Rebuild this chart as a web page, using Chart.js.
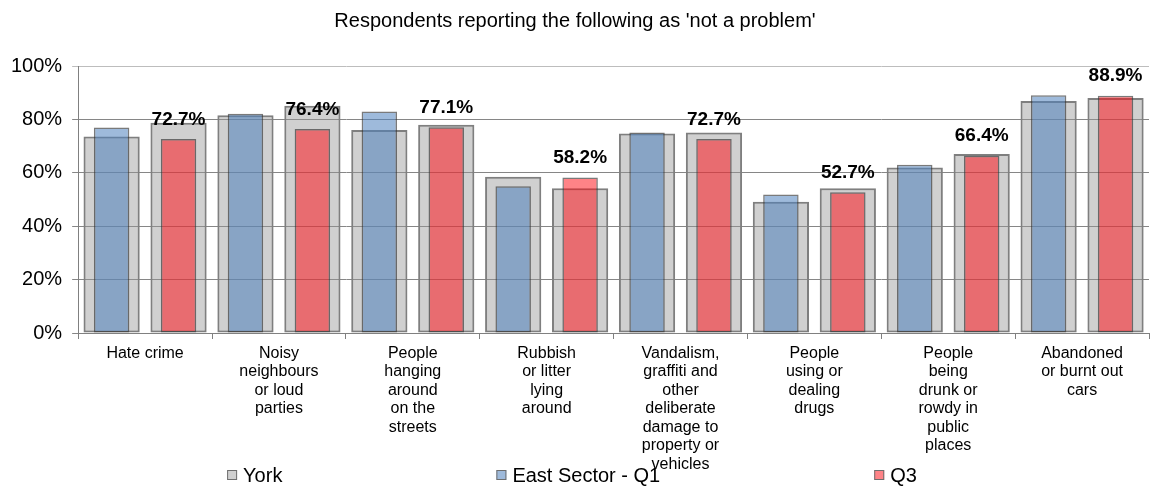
<!DOCTYPE html>
<html>
<head>
<meta charset="utf-8">
<script src="https://cdn.jsdelivr.net/npm/chart.js@4/dist/chart.umd.min.js"></script>
<style>
    html, body { margin: 0; padding: 0; background: #fff; }
    #wrap { width: 1150px; height: 488px; }
</style>
</head>
<body>
<div id="wrap"><canvas id="problemChart"></canvas></div>
<script>
const FONT = '"Liberation Sans", Arial, sans-serif';

const categories = [
    ['Hate crime'],
    ['Noisy', 'neighbours', 'or loud', 'parties'],
    ['People', 'hanging', 'around', 'on the', 'streets'],
    ['Rubbish', 'or litter', 'lying', 'around'],
    ['Vandalism,', 'graffiti and', 'other', 'deliberate', 'damage to', 'property or', 'vehicles'],
    ['People', 'using or', 'dealing', 'drugs'],
    ['People', 'being', 'drunk or', 'rowdy in', 'public', 'places'],
    ['Abandoned', 'or burnt out', 'cars']
];

// York comparison bars (behind East Sector Q1 and Q3)
const yorkQ1 = [73.6, 81.6, 76.0, 58.5, 74.7, 49.2, 62.0, 86.9];
const yorkQ3 = [78.7, 85.1, 78.0, 54.2, 75.1, 54.2, 67.0, 88.0];
const eastQ1 = [77.0, 82.1, 83.0, 55.0, 75.1, 51.9, 63.0, 89.0];
const eastQ3 = [72.7, 76.4, 77.1, 58.2, 72.7, 52.7, 66.4, 88.9];

const yTicks = [0, 20, 40, 60, 80, 100];
const legendNames = ['York', 'East Sector - Q1', 'Q3'];

const GREY = 'rgba(150, 150, 150, 0.45)';
const BLUE = 'rgba(79, 129, 189, 0.55)';
const RED = 'rgba(255, 8, 16, 0.5)';

// value labels above the Q3 bars
const valueLabels = {
    id: 'valueLabels',
    afterDatasetsDraw(chart) {
        const meta = chart.getDatasetMeta(3);
        const ctx = chart.ctx;
        ctx.save();
        ctx.font = 'bold 19px ' + FONT;
        ctx.fillStyle = '#000';
        ctx.textAlign = 'center';
        ctx.textBaseline = 'middle';
        meta.data.forEach((bar, i) => {
            ctx.fillText(eastQ3[i].toFixed(1) + '%', bar.x, bar.y - 19.5);
        });
        ctx.restore();
    }
};

// let the category labels run down over the legend area like the original
const tallLabels = {
    id: 'tallLabels',
    afterLayout(chart) {
        chart.scales.x.bottom = chart.height;
    }
};

// Excel style legend spread across the bottom
const bottomLegend = {
    id: 'bottomLegend',
    afterDraw(chart) {
        const ctx = chart.ctx;
        const fills = [GREY, BLUE, RED];
        const box = 10, gap = 214, y = 475;
        ctx.save();
        ctx.font = '20px ' + FONT;
        ctx.textBaseline = 'middle';
        ctx.textAlign = 'left';
        const widths = legendNames.map(t => box + 6 + ctx.measureText(t).width);
        const total = widths.reduce((a, b) => a + b, 0) + gap * (widths.length - 1);
        let x = (chart.width - total) / 2 - 3;
        legendNames.forEach((name, i) => {
            ctx.fillStyle = '#fff';
            ctx.fillRect(x, y - box / 2, box, box);
            ctx.fillStyle = fills[i];
            ctx.fillRect(x, y - box / 2, box, box);
            ctx.strokeStyle = '#6f6f6f';
            ctx.lineWidth = 1;
            ctx.strokeRect(x + 0.5, y - box / 2 + 0.5, box - 1, box - 1);
            ctx.fillStyle = '#000';
            ctx.fillText(name, x + box + 6, y + 1);
            x += widths[i] + gap;
        });
        ctx.restore();
    }
};

const ctx = document.getElementById('problemChart').getContext('2d');

new Chart(ctx, {
    type: 'bar',
    data: {
        labels: categories,
        datasets: [
            {
                label: 'York',
                data: yorkQ1,
                stack: 'q1',
                order: 1,
                backgroundColor: GREY,
                borderColor: '#7f7f7f',
                borderWidth: 2,
                borderSkipped: false,
                barPercentage: 0.84,
                categoryPercentage: 1.0
            },
            {
                label: 'York',
                data: yorkQ3,
                stack: 'q3',
                order: 1,
                backgroundColor: GREY,
                borderColor: '#7f7f7f',
                borderWidth: 2,
                borderSkipped: false,
                barPercentage: 0.84,
                categoryPercentage: 1.0
            },
            {
                label: 'East Sector - Q1',
                data: eastQ1,
                stack: 'q1',
                order: 0,
                backgroundColor: BLUE,
                borderColor: 'rgba(50, 50, 50, 0.65)',
                borderWidth: 1.5,
                borderSkipped: false,
                barPercentage: 0.53,
                categoryPercentage: 1.0
            },
            {
                label: 'Q3',
                data: eastQ3,
                stack: 'q3',
                order: 0,
                backgroundColor: RED,
                borderColor: 'rgba(50, 50, 50, 0.65)',
                borderWidth: 1.5,
                borderSkipped: false,
                barPercentage: 0.53,
                categoryPercentage: 1.0
            }
        ]
    },
    options: {
        responsive: true,
        maintainAspectRatio: false,
        animation: false,
        layout: {
            padding: { left: 1, right: 1, top: 0, bottom: 40 }
        },
        scales: {
            x: {
                stacked: true,
                afterFit: (scale) => { scale.height = 115; },
                grid: {
                    offset: true,
                    drawOnChartArea: false,
                    drawTicks: true,
                    tickLength: 6,
                    color: '#808080'
                },
                border: { color: '#808080', width: 1 },
                ticks: {
                    autoSkip: false,
                    maxRotation: 0,
                    minRotation: 0,
                    padding: 5,
                    color: '#000',
                    font: { family: FONT, size: 16, lineHeight: 1.16 }
                }
            },
            y: {
                stacked: false,
                min: 0,
                max: 100,
                afterBuildTicks: (scale) => { scale.ticks = yTicks.map(v => ({ value: v })); },
                grid: {
                    color: (c) => (c.tick && c.tick.value === 100) ? '#bdbdbd' : '#868686',
                    tickLength: 6
                },
                border: { color: '#808080', width: 1 },
                ticks: {
                    padding: 10,
                    color: '#000',
                    font: { family: FONT, size: 20 },
                    callback: (v) => v + '%'
                }
            }
        },
        plugins: {
            title: {
                display: true,
                text: "Respondents reporting the following as 'not a problem'",
                color: '#000',
                font: { family: FONT, size: 20, weight: 'normal' },
                padding: { top: 9, bottom: 33 }
            },
            legend: { display: false },
            tooltip: { enabled: false }
        }
    },
    plugins: [valueLabels, tallLabels, bottomLegend]
});
</script>
</body>
</html>
